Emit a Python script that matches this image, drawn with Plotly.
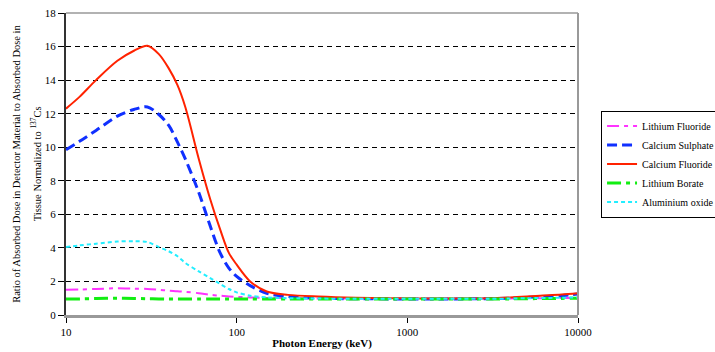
import plotly.graph_objects as go

# Photon energy (keV)
energy = [10, 12, 15, 20, 25, 30, 35, 40, 45, 50, 60, 70, 80, 90, 100, 120, 150,
          200, 300, 500, 800, 1000, 1500, 2000, 3000, 4000, 5000, 6000, 8000, 10000]

lithium_fluoride = [1.50, 1.52, 1.55, 1.60, 1.57, 1.55, 1.50, 1.45, 1.42, 1.38, 1.30, 1.20,
                    1.15, 1.10, 1.08, 1.05, 1.02, 1.00, 0.99, 0.98, 0.98, 0.98, 0.98, 0.98, 0.98,
                    0.99, 1.00, 1.00, 1.01, 1.02]
calcium_sulphate = [9.85, 10.35, 11.0, 11.85, 12.25, 12.4, 11.95, 11.3, 10.3, 9.3, 7.3, 5.3,
                    3.7, 2.8, 2.3, 1.75, 1.30, 1.10, 1.00, 0.97, 0.96, 0.96, 0.96, 0.96, 0.97,
                    1.00, 1.05, 1.08, 1.15, 1.25]
calcium_fluoride = [12.3, 13.0, 14.0, 15.15, 15.75, 16.05, 15.55, 14.7, 13.7, 12.4, 9.3, 6.9,
                    5.1, 3.7, 3.0, 2.0, 1.40, 1.20, 1.10, 1.03, 1.00, 0.99, 0.98, 0.98, 1.00,
                    1.05, 1.10, 1.15, 1.22, 1.30]
lithium_borate = [0.95, 0.96, 0.98, 1.00, 0.99, 0.97, 0.96, 0.95, 0.95, 0.95, 0.95, 0.95,
                  0.95, 0.95, 0.95, 0.95, 0.95, 0.95, 0.95, 0.95, 0.95, 0.95, 0.95, 0.95, 0.95,
                  0.96, 0.97, 0.98, 0.99, 1.00]
aluminium_oxide = [4.05, 4.15, 4.25, 4.38, 4.40, 4.35, 4.05, 3.80, 3.50, 3.10, 2.60, 2.20,
                   1.85, 1.55, 1.35, 1.15, 1.05, 1.00, 0.98, 0.97, 0.97, 0.97, 0.97, 0.97, 0.97,
                   0.98, 1.00, 1.01, 1.03, 1.05]

x_ticks = [10, 100, 1000, 10000]
x_tick_text = ["10", "100", "1000", "10000"]
y_ticks = [0, 2, 4, 6, 8, 10, 12, 14, 16, 18]

series = [
    ("Lithium Fluoride", lithium_fluoride, "#FF33FF", 2, "12px,5px,4px,5px"),
    ("Calcium Sulphate", calcium_sulphate, "#1030FF", 3, "10px,5px"),
    ("Calcium Fluoride", calcium_fluoride, "#FF2200", 2, "solid"),
    ("Lithium Borate", lithium_borate, "#11EE11", 3, "14px,5px,4px,5px"),
    ("Aluminium oxide", aluminium_oxide, "#22EEFF", 2, "4px,3px"),
]

serif = "Times New Roman, Liberation Serif, serif"

fig = go.Figure()
for name, vals, color, width, dash in series:
    fig.add_trace(go.Scatter(
        x=energy, y=vals, name=name, mode="lines",
        line=dict(color=color, width=width, dash=dash, shape="spline", smoothing=0.9),
    ))

fig.update_layout(
    width=715, height=352,
    margin=dict(l=66, r=137, t=13, b=37, autoexpand=False),
    paper_bgcolor="white", plot_bgcolor="white",
    font=dict(family=serif, size=11, color="black"),
    showlegend=True,
    legend=dict(
        x=1.045, xanchor="left", y=0.5, yanchor="middle",
        bordercolor="black", borderwidth=1, bgcolor="white",
        font=dict(family=serif, size=10, color="black"),
        traceorder="normal",
    ),
    xaxis=dict(
        type="log", range=[1, 4], automargin=False,
        tickvals=x_ticks, ticktext=x_tick_text,
        showgrid=False, zeroline=False,
        showline=True, linecolor="#999999", linewidth=3,
        ticks="outside", ticklen=5, tickcolor="black", tickwidth=1,
        tickfont=dict(family=serif, size=11),
        title=dict(text="<b>Photon Energy (keV)</b>", font=dict(family=serif, size=11), standoff=3),
    ),
    yaxis=dict(
        range=[0, 18], tickvals=y_ticks, automargin=False,
        showgrid=True, gridcolor="black", gridwidth=1, griddash="5px,4px",
        zeroline=False,
        showline=True, linecolor="#333333", linewidth=2,
        ticks="outside", ticklen=6, tickcolor="black", tickwidth=1,
        tickfont=dict(family=serif, size=11),
    ),
    shapes=[
        dict(type="line", xref="paper", yref="paper", x0=0, x1=1, y0=1, y1=1,
             line=dict(color="#999999", width=1.5)),
        dict(type="line", xref="paper", yref="paper", x0=1, x1=1, y0=0, y1=1,
             line=dict(color="#999999", width=2)),
    ],
    annotations=[
        dict(text="Ratio of Absorbed Dose in Detector Material to Absorbed Dose in",
             xref="paper", yref="paper", x=-0.098, y=0.5, textangle=-90,
             showarrow=False, xanchor="center", yanchor="middle",
             font=dict(family=serif, size=10.5)),
        dict(text="Tissue Normalized to <sup>137</sup>Cs",
             xref="paper", yref="paper", x=-0.06, y=0.5, textangle=-90,
             showarrow=False, xanchor="center", yanchor="middle",
             font=dict(family=serif, size=10.5)),
    ],
)

fig.write_html("out.html")
